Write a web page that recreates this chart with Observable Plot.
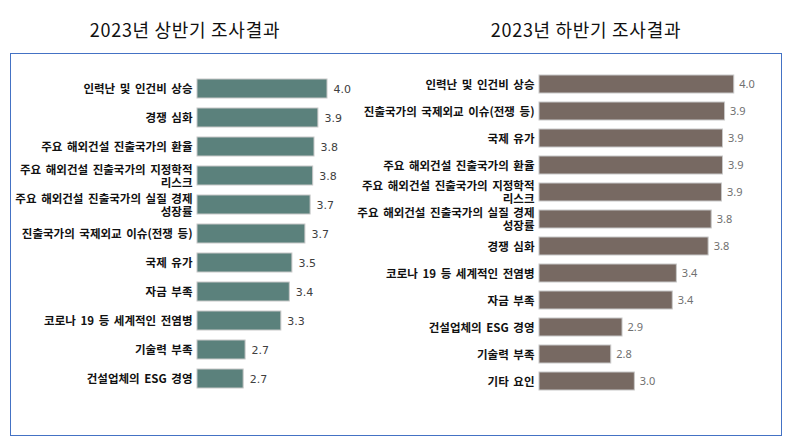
<!DOCTYPE html>
<html>
<head>
<meta charset="utf-8">
<script src="https://cdn.jsdelivr.net/npm/d3@7"></script>
<script src="https://cdn.jsdelivr.net/npm/@observablehq/plot@0.6"></script>
<style>
  html, body { margin: 0; padding: 0; background: #fff; }
  #wrap { position: relative; width: 790px; height: 441px; overflow: hidden; font-family: "Noto Sans CJK KR", sans-serif; }
  .title { position: absolute; top: 17px; width: 300px; text-align: center; font-size: 18px; letter-spacing: 0.7px; color: #111; line-height: 24px; }
  #box { position: absolute; left: 10px; top: 53px; width: 770px; height: 381px; border: 1px solid #4472C4; }
  .panel { position: absolute; top: 53px; }
  .panel svg text { word-spacing: 2px; }
</style>
</head>
<body>
<div id="wrap">
  <div class="title" id="t1" style="left:35px"></div>
  <div class="title" id="t2" style="left:436px"></div>
  <div id="box"></div>
  <div class="panel" id="p1" style="left:10px"></div>
  <div class="panel" id="p2" style="left:350px"></div>
</div>
<script>
const titles = ["2023년 상반기 조사결과", "2023년 하반기 조사결과"];

const firstCategories = [
  "인력난 및 인건비 상승",
  "경쟁 심화",
  "주요 해외건설 진출국가의 환율",
  "주요 해외건설 진출국가의 지정학적\n리스크",
  "주요 해외건설 진출국가의 실질 경제\n성장률",
  "진출국가의 국제외교 이슈(전쟁 등)",
  "국제 유가",
  "자금 부족",
  "코로나 19 등 세계적인 전염병",
  "기술력 부족",
  "건설업체의 ESG 경영"
];
const firstValues = [4.00, 3.86, 3.80, 3.78, 3.74, 3.66, 3.46, 3.42, 3.29, 2.74, 2.71];

const secondCategories = [
  "인력난 및 인건비 상승",
  "진출국가의 국제외교 이슈(전쟁 등)",
  "국제 유가",
  "주요 해외건설 진출국가의 환율",
  "주요 해외건설 진출국가의 지정학적\n리스크",
  "주요 해외건설 진출국가의 실질 경제\n성장률",
  "경쟁 심화",
  "코로나 19 등 세계적인 전염병",
  "자금 부족",
  "건설업체의 ESG 경영",
  "기술력 부족",
  "기타 요인"
];
const secondValues = [4.00, 3.91, 3.89, 3.89, 3.88, 3.78, 3.75, 3.44, 3.40, 2.91, 2.80, 3.03];

document.getElementById("t1").textContent = titles[0];
document.getElementById("t2").textContent = titles[1];

function panel({cats, vals, width, marginLeft, xDomain, marginTop, marginBottom, pad, color, valueFont, valueFill, valueSize, valueDx}) {
  const data = cats.map((c, i) => ({cat: c, v: vals[i]}));
  return Plot.plot({
    width, height: 383,
    marginLeft, marginRight: 10, marginTop, marginBottom,
    style: {background: "transparent", overflow: "visible"},
    x: {domain: xDomain, axis: null},
    y: {domain: cats, paddingInner: pad, paddingOuter: pad / 2, axis: null},
    marks: [
      Plot.barX(data, {x1: xDomain[0], x2: "v", y: "cat", fill: color, stroke: "#c8c8c8", strokeWidth: 1}),
      Plot.text(data, {x: "v", y: "cat", text: d => d3.format(".1f")(d.v), textAnchor: "start", dx: valueDx,
        fontFamily: valueFont, fontSize: valueSize, fill: valueFill}),
      Plot.axisY({tickSize: 0, tickPadding: 5, fontSize: 11.5, fontWeight: "bold", lineHeight: 1.12,
        fontFamily: "Noto Sans CJK KR", fill: "#111", label: null})
    ]
  });
}

document.getElementById("p1").appendChild(panel({
  cats: firstCategories, vals: firstValues, width: 340, marginLeft: 187,
  xDomain: [2.0, 4.2], marginTop: 16, marginBottom: 39, pad: 0.36,
  color: "#5B817C", valueFont: "DejaVu Sans", valueFill: "#404040", valueSize: 11, valueDx: 6
}));

document.getElementById("p2").appendChild(panel({
  cats: secondCategories, vals: secondValues, width: 432, marginLeft: 189,
  xDomain: [2.1, 4.373], marginTop: 16, marginBottom: 41, pad: 0.35,
  color: "#776962", valueFont: "Noto Sans", valueFill: "#707070", valueSize: 11, valueDx: 5
}));
</script>
</body>
</html>
